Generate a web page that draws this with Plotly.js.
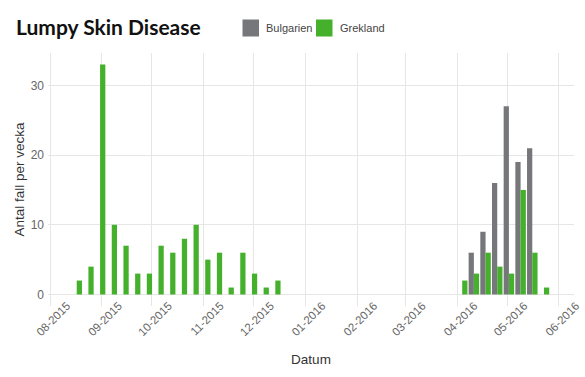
<!DOCTYPE html>
<html>
<head>
<meta charset="utf-8">
<script src="https://cdn.plot.ly/plotly-3.0.1.min.js"></script>
<style>html,body{margin:0;padding:0;background:#fff;}#chart{width:585px;height:377px;}</style>
</head>
<body>
<div id="chart"></div>
<script>
// Week start dates (Mondays)
var weeks = ['2015-08-17','2015-08-24','2015-08-31','2015-09-07','2015-09-14','2015-09-21','2015-09-28',
  '2015-10-05','2015-10-12','2015-10-19','2015-10-26','2015-11-02','2015-11-09','2015-11-16','2015-11-23',
  '2015-11-30','2015-12-07','2015-12-14',
  '2016-04-04','2016-04-11','2016-04-18','2016-04-25','2016-05-02','2016-05-09','2016-05-16','2016-05-23'];
var greece = [2,4,33,10,7,3,3,7,6,8,10,5,6,1,6,3,1,2, 2,3,6,4,3,15,6,1];
var bulgaria = [0,0,0,0,0,0,0,0,0,0,0,0,0,0,0,0,0,0, 0,6,9,16,27,19,21,0];
var seriesNames = ['Bulgarien','Grekland'];
var seriesColors = ['#76777b','#45b02b'];

var W = 585, H = 377;
var M = {l:48, r:11, t:53, b:71};
var PW = W - M.l - M.r, PH = H - M.t - M.b;
function px(x){ return (x - M.l)/PW; }
function py(y){ return (H - M.b - y)/PH; }

var FONT = 'Liberation Sans, Arial, sans-serif';

var traces = [
  {type:'bar', name:seriesNames[0], x:weeks, y:bulgaria, marker:{color:seriesColors[0], line:{width:0}}, showlegend:false},
  {type:'bar', name:seriesNames[1], x:weeks, y:greece, marker:{color:seriesColors[1], line:{width:0}}, showlegend:false}
];

// custom legend
var legendItems = [{x0:242.5, text:264},{x0:316, text:337.5}];
var shapes = [], annotations = [];
legendItems.forEach(function(it, i){
  shapes.push({type:'rect', xref:'paper', yref:'paper', x0:px(it.x0), x1:px(it.x0+16.5), y0:py(36.5), y1:py(19.5),
    fillcolor:seriesColors[i], line:{width:0}});
  annotations.push({xref:'paper', yref:'paper', x:px(it.text), y:py(28.5), xanchor:'left', yanchor:'middle',
    text:seriesNames[i], showarrow:false, font:{family:FONT, size:11, color:'#444'}});
});

var layout = {
  width:W, height:H, autosize:false,
  margin:M,
  paper_bgcolor:'#fff', plot_bgcolor:'#fff',
  barmode:'group', bargap:0.1, bargroupgap:0,
  title:{text:'Lumpy Skin Disease', x:16/W, xref:'container', xanchor:'left', y:1-27.5/H, yref:'container', yanchor:'middle',
    font:{family:'Lato, sans-serif', size:21, color:'#111', weight:'bold'}},
  xaxis:{type:'date', range:['2015-07-30 19:00','2016-06-10 00:00'], tick0:'2015-08-01', dtick:'M1', tickformat:'%m-%Y',
    tickangle:-45, showgrid:true, gridcolor:'#e6e6e6', gridwidth:1, zeroline:false, showline:false, ticks:'',
    tickfont:{family:FONT, size:11.5, color:'#666'}, ticklabelshift:17, ticklabelstandoff:-10, ticklabeloverflow:'allow',
    title:{text:'Datum', font:{family:FONT, size:13.5, color:'#333'}, standoff:17}, automargin:false},
  yaxis:{range:[-1.65,34.65], dtick:10, tick0:0, showgrid:true, gridcolor:'#e6e6e6', gridwidth:1, zeroline:false, showline:false, ticks:'',
    tickfont:{family:FONT, size:12, color:'#666'}, ticklabelstandoff:3,
    title:{text:'Antal fall per vecka', font:{family:FONT, size:13.5, color:'#333'}, standoff:2}, automargin:false},
  shapes:shapes, annotations:annotations
};

Plotly.newPlot('chart', traces, layout, {displayModeBar:false, staticPlot:true});
</script>
</body>
</html>
